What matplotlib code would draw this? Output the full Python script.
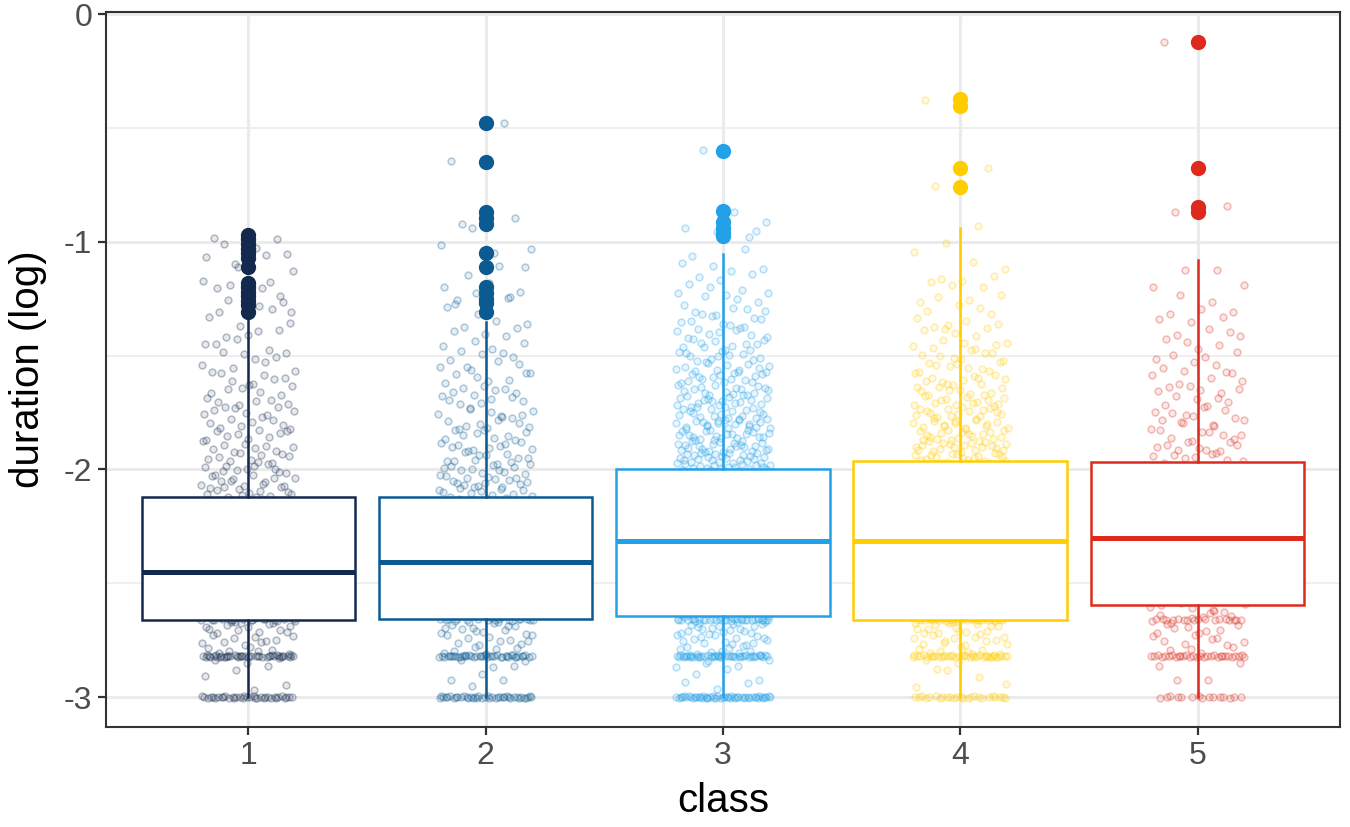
import numpy as np
import matplotlib.pyplot as plt
from matplotlib.colors import to_rgba

plt.rcParams['font.family'] = ['Liberation Sans', 'DejaVu Sans']
plt.rcParams['axes.unicode_minus'] = False

classes = ["1", "2", "3", "4", "5"]
colors = ["#132a4e", "#0b5a91", "#22a1e9", "#ffcd00", "#dd2a1c"]

# box statistics
q1 = [-2.661, -2.657, -2.644, -2.661, -2.596]
med = [-2.451, -2.407, -2.314, -2.314, -2.301]
q3 = [-2.121, -2.121, -1.998, -1.963, -1.966]
whis_lo = [-3.0, -3.0, -3.0, -3.0, -3.0]
whis_hi = [-1.344, -1.353, -1.054, -0.94, -1.08]
outliers = [
    [-0.97, -0.99, -1.01, -1.03, -1.05, -1.07, -1.11, -1.18, -1.20, -1.22, -1.24, -1.26, -1.28, -1.31],
    [-0.48, -0.65, -0.87, -0.895, -0.92, -1.05, -1.11, -1.20, -1.225, -1.25, -1.27, -1.31],
    [-0.60, -0.865, -0.915, -0.94, -0.96, -0.975],
    [-0.373, -0.404, -0.675, -0.758],
    [-0.123, -0.675, -0.846, -0.868],
]

# raw observations: values that pile up on a few levels ...
band_y = [-3.0, -2.82, -2.66]
band_n = [
    [35, 40, 12],
    [40, 40, 12],
    [50, 45, 25],
    [25, 35, 25],
    [15, 28, 15],
]

# ... and the rest, counted in 0.05 wide bins (centres)
bin_y = [-2.95, -2.90, -2.85, -2.80, -2.75, -2.70, -2.65, -2.60, -2.55, -2.50,
         -2.45, -2.40, -2.35, -2.30, -2.25, -2.20, -2.15, -2.10, -2.05, -2.00,
         -1.95, -1.90, -1.85, -1.80, -1.75, -1.70, -1.65, -1.60, -1.55, -1.50,
         -1.45, -1.40, -1.35, -1.30, -1.25, -1.20, -1.15, -1.10, -1.05, -1.00,
         -0.95]
bin_n = [
    [2, 2, 4, 10, 10, 12, 15,
     15, 16, 16, 17, 17, 17, 16, 16, 15, 15,
     14, 12, 11, 10, 9, 9, 8, 8, 7, 7, 6, 5, 5, 4, 4, 3, 2, 2, 2, 2, 1, 1, 1, 0],
    [2, 2, 4, 8, 10, 12, 15,
     15, 16, 16, 17, 17, 17, 16, 16, 15, 15,
     14, 13, 12, 11, 10, 9, 9, 8, 7, 7, 6, 6, 5, 4, 4, 3, 2, 2, 2, 1, 1, 1, 1, 1],
    [3, 3, 5, 12, 14, 16, 20,
     18, 18, 19, 19, 20, 20, 20, 20, 20, 20, 20, 20,
     26, 24, 22, 21, 20, 18, 17, 16, 14, 13, 12, 10, 9, 8, 7, 5, 4, 4, 3, 2, 1, 1],
    [2, 2, 4, 10, 12, 14, 16,
     16, 16, 17, 17, 18, 18, 18, 18, 18, 17, 17, 17,
     20, 20, 19, 18, 16, 15, 13, 12, 10, 9, 8, 7, 5, 5, 4, 4, 3, 3, 2, 1, 1, 1],
    [1, 1, 2, 6, 8, 8, 10,
     8, 10, 10, 10, 11, 11, 11, 11, 11, 11, 11, 11,
     10, 9, 9, 8, 7, 7, 6, 6, 5, 5, 4, 4, 4, 3, 3, 2, 2, 1, 1, 0, 0, 0],
]


def halton(k, base):
    # deterministic low-discrepancy sequence in [0, 1), used for the jitter
    out = np.zeros(len(k))
    k = k.copy()
    f = 1.0 / base
    while k.any():
        out += f * (k % base)
        k //= base
        f /= base
    return out


fig = plt.figure(figsize=(13.5, 8.27), dpi=100)
ax = fig.add_axes([0.0785, 0.121, 0.914, 0.8645])

for i, c in enumerate(colors):
    pos = i + 1
    ys, hs = [], []
    for y, n in zip(band_y, band_n[i]):
        ys += [y] * n
        hs += [0.008] * n
    for y, n in zip(bin_y, bin_n[i]):
        ys += [y] * n
        hs += [0.05] * n
    ys += outliers[i]
    hs += [0.008] * len(outliers[i])
    k = np.arange(len(ys)) + 1 + 97 * i
    jx = (halton(k, 3) - 0.5) * 0.4
    jy = (halton(k, 2) - 0.5) * np.array(hs)
    ax.scatter(pos + jx, np.array(ys) + jy, s=24,
               facecolor=to_rgba(c, 0.1), edgecolor=to_rgba(c, 0.3),
               linewidth=1.1, zorder=2)

    stats = [dict(med=med[i], q1=q1[i], q3=q3[i], whislo=whis_lo[i],
                  whishi=whis_hi[i], fliers=outliers[i])]
    ax.bxp(stats, positions=[pos], widths=0.9, patch_artist=True,
           showcaps=False, manage_ticks=False, zorder=3,
           boxprops=dict(facecolor='white', edgecolor=c, linewidth=1.8),
           medianprops=dict(color=c, linewidth=3.6, solid_capstyle='butt'),
           whiskerprops=dict(color=c, linewidth=1.8),
           flierprops=dict(marker='o', markerfacecolor=c, markeredgecolor=c,
                           markersize=10, linestyle='none'))

ax.set_xlim(0.4, 5.6)
ax.set_ylim(-3.131, 0.009)
ax.set_xticks(range(1, 6))
ax.set_xticklabels(classes)
ax.set_yticks([0, -1, -2, -3])
ax.set_yticklabels(["0", "-1", "-2", "-3"])
ax.set_yticks([-0.5, -1.5, -2.5], minor=True)

ax.set_axisbelow(True)
ax.grid(which='major', color='#ebebeb', linewidth=2.2)
ax.grid(which='minor', axis='y', color='#ebebeb', linewidth=1.1)
ax.tick_params(which='major', length=6, width=1.6, color='#333333',
               labelsize=23, labelcolor='#4d4d4d', pad=4)
ax.tick_params(which='minor', length=0)
for s in ax.spines.values():
    s.set_color('#333333')
    s.set_linewidth(1.5)

ax.set_xlabel("class", fontsize=29, labelpad=8)
ax.set_ylabel("duration (log)", fontsize=29, labelpad=12)

fig.savefig("out.png", dpi=100)
